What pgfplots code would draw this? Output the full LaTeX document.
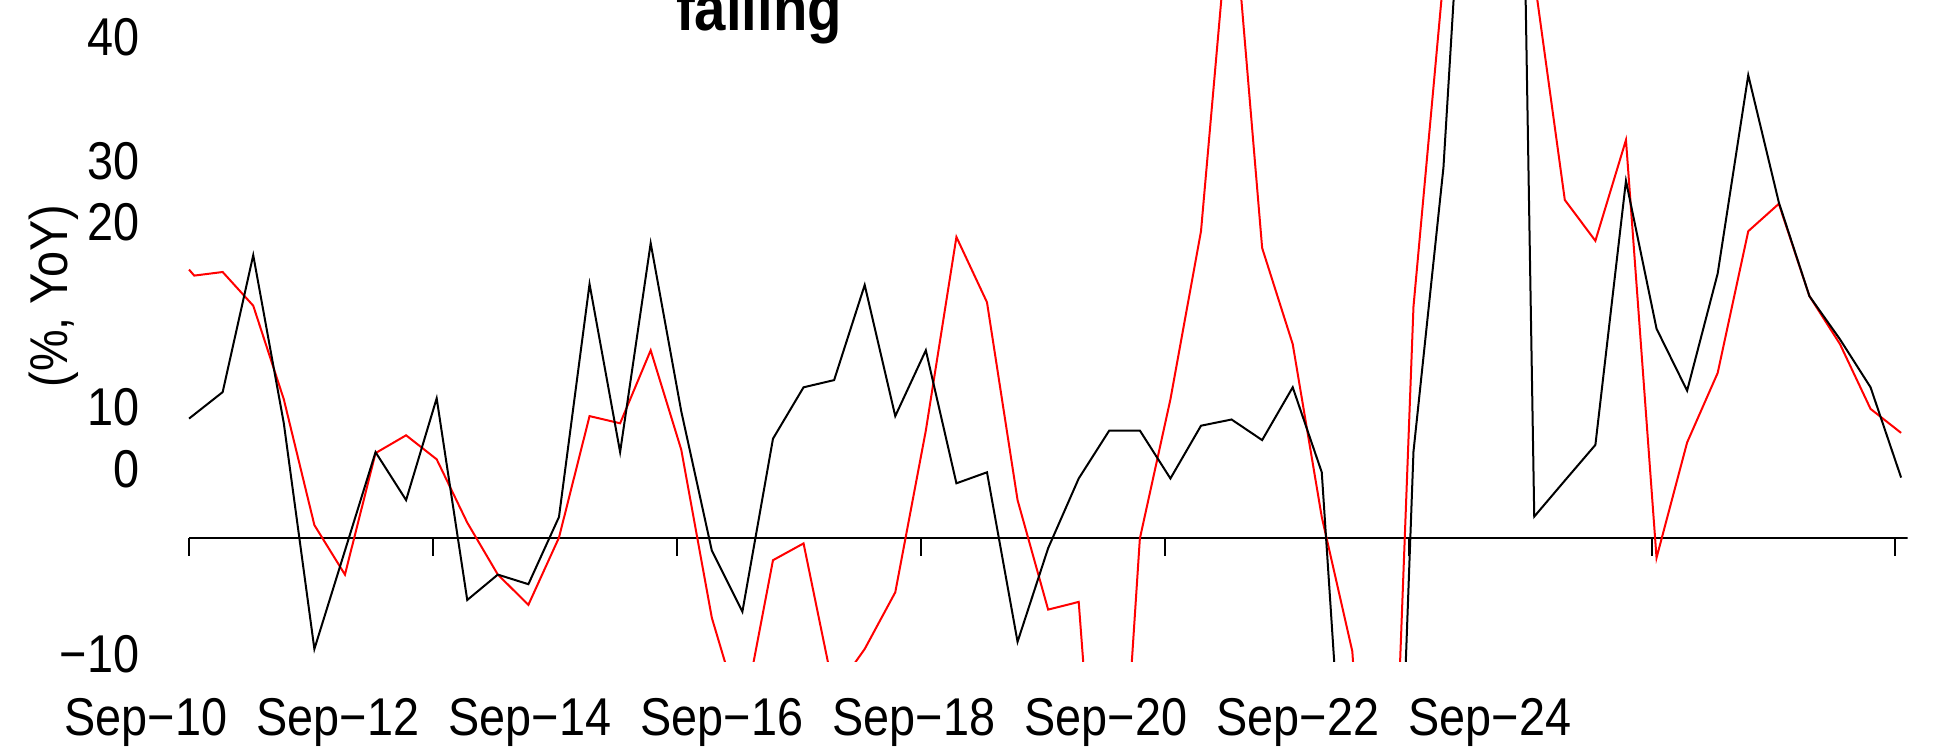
\documentclass[border=0pt]{standalone}
\usepackage{pgfplots}
\pgfplotsset{compat=1.18}
\usepackage{pgfplotstable}
\usepackage{fontspec}
\setmainfont{Liberation Sans}[FakeStretch=0.88]

\pgfplotstableread{
x y
0 11.9
1.1 14.55
2.1 28.24
3.1 11.43
4.1 -11.14
5.1 -1.3
6.1 8.55
7.1 3.75
8.1 13.93
9.1 -6.24
10.1 -3.70
11.1 -4.66
12.1 2.06
13.1 25.36
14.1 8.55
15.1 29.44
16.1 12.63
17.1 -1.30
18.1 -7.40
19.1 9.89
20.1 15.03
21.1 15.75
22.1 25.26
23.1 12.15
24.1 18.73
25.1 5.43
26.1 6.53
27.1 -10.42
28.1 -1.06
29.1 5.91
30.1 10.71
31.1 10.71
32.1 5.91
33.1 11.19
34.1 11.81
35.1 9.75
36.1 15.03
37.05 6.53
38.05 -40
39.05 -75
40.05 8.6
41.03 37.0
42 86
43 186
44 2.1
45 5.7
46 9.27
47 35.68
48 20.89
49 14.69
50 26.41
51 46.24
52 33.52
53 24.15
54 19.83
55 15.03
56 6.0
}\blackdata

\pgfplotstableread{
x y
0 26.8
0.17 26.2
1.1 26.56
2.1 23.19
3.1 13.83
4.1 1.25
5.1 -3.70
6.1 8.45
7.1 10.23
8.1 7.83
9.1 1.5
10.1 -3.70
11.1 -6.72
12.1 0
13.1 12.15
14.1 11.43
15.1 18.73
16.1 8.79
17.1 -8.02
18.1 -18.3
19.1 -2.26
20.1 -0.58
21.1 -15.46
22.1 -11.14
23.1 -5.47
24.1 10.71
25.1 30.06
26.1 23.53
27.1 3.75
28.1 -7.2
29.1 -6.43
30.1 -47
31.1 -0.1
32.1 13.83
33.1 30.64
34.1 65.5
35.1 28.96
36.1 19.35
37.05 2.06
38.05 -11.38
39.05 -58
40.05 23.1
41.03 56
42 75
43 70
44 56
45 33.76
46 29.68
47 39.76
48 -2.02
49 9.51
50 16.47
51 30.64
52 33.38
53 24.15
54 19.35
55 12.87
56 10.47
}\reddata

\begin{document}
\begin{tikzpicture}
\useasboundingbox (0,0) rectangle (489pt,188.25pt);
\begin{axis}[
  at={(35.03pt,23pt)}, anchor=south west,
  scale only axis, width=441.85pt, height=190.25pt,
  xmin=-1.6, xmax=56.21, ymin=-12.34, ymax=63.76,
  axis x line=bottom, axis y line=left,
  axis line style={draw=none,-},
  xtick={-1.41,4.87,11.15,17.43,23.71,29.99,36.27,42.55},
  xticklabels={Sep−10,Sep−12,Sep−14,Sep−16,Sep−18,Sep−20,Sep−22,Sep−24},
  ytick={50.01,37.66,31.51,13.01,6.86,-11.64},
  yticklabels={40,30,20,10,0,−10},
  tick style={draw=none},
  major tick length=0pt,
  every tick label/.append style={font=\fontsize{13.3pt}{15pt}\selectfont},
  xticklabel style={anchor=base, inner sep=0pt, yshift=-18.5pt},
  yticklabel style={anchor=east, inner sep=0pt},
  clip=true,
]
\addplot[black, line width=0.5pt] coordinates {(0,0) (56.21,0)};
\addplot[ycomb, black, line width=0.5pt] coordinates {(0,-1.8) (7.98,-1.8) (15.97,-1.8) (23.95,-1.8) (31.93,-1.8) (39.9,-1.8) (47.85,-1.8) (55.8,-1.8)};
\addplot[red, line width=0.5pt] table[x=x,y=y] {\reddata};
\addplot[black, line width=0.5pt] table[x=x,y=y] {\blackdata};
\end{axis}
\node[font=\bfseries\fontsize{16pt}{18pt}\selectfont, anchor=base] at (189.75pt,180.6pt) {falling};
\node[rotate=90, font=\fontsize{13.3pt}{15pt}\selectfont] at (13.5pt,114.25pt) {(\%, YoY)};
\end{tikzpicture}
\end{document}
